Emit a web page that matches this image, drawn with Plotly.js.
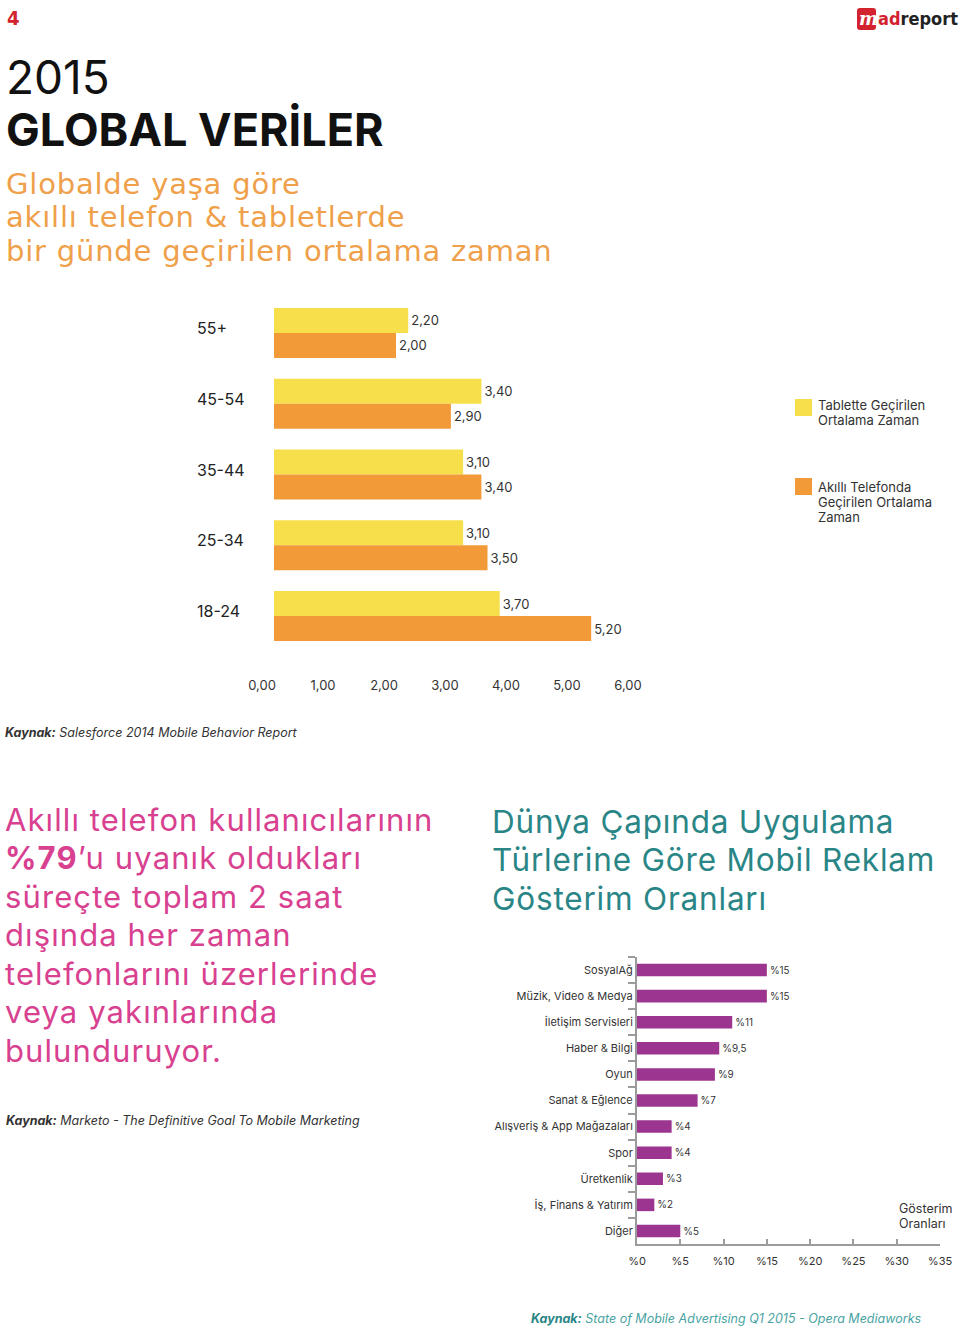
<!DOCTYPE html>
<html>
<head>
<meta charset="utf-8">
<script src="https://cdn.plot.ly/plotly-3.0.1.min.js"></script>
<style>html,body{margin:0;padding:0;background:#fff;}#chart{width:960px;height:1330px;}</style>
</head>
<body>
<div id="chart"></div>
<script>
// ---------- data: chart 1 ----------
const ageGroups = ['55+', '45-54', '35-44', '25-34', '18-24'];
const tabletHours = [2.20, 3.40, 3.10, 3.10, 3.70];
const phoneHours = [2.00, 2.90, 3.40, 3.50, 5.20];
const hourTicks = [0, 1, 2, 3, 4, 5, 6];
const tabletName = ['Tablette Geçirilen', 'Ortalama Zaman'];
const phoneName = ['Akıllı Telefonda', 'Geçirilen Ortalama', 'Zaman'];

// ---------- data: chart 2 ----------
const appCategories = ['SosyalAğ', 'Müzik, Video & Medya', 'İletişim Servisleri', 'Haber & Bilgi', 'Oyun',
  'Sanat & Eğlence', 'Alışveriş & App Mağazaları', 'Spor', 'Üretkenlik', 'İş, Finans & Yatırım', 'Diğer'];
const appShares = [15, 15, 11, 9.5, 9, 7, 4, 4, 3, 2, 5];
const shareTicks = [0, 5, 10, 15, 20, 25, 30, 35];
const shareTickText = shareTicks.map(v => '%' + v);

const W = 960, H = 1330;
const FONT = 'Inter, Lato, "Noto Sans", sans-serif';
const WIDE = '"DejaVu Sans", Inter, sans-serif';
const NARROW = '"Liberation Sans Narrow", "DejaVu Sans Condensed", "DejaVu Sans", sans-serif';
const TXT = '#333333';
const YELLOW = '#F7DF4B', ORANGE = '#F39A38', PURPLE = '#9C3590';
const px = v => v / W;
const py = v => 1 - v / H;

const traces = [
  {
    type: 'bar', orientation: 'h', x: tabletHours, y: ageGroups, xaxis: 'x', yaxis: 'y',
    name: tabletName.join(' '), marker: {color: YELLOW}, width: 0.353, offset: -0.353,
    texttemplate: '%{x:.2f}', textposition: 'outside', cliponaxis: false,
    textfont: {family: FONT, size: 13, color: TXT}, hoverinfo: 'x+y'
  },
  {
    type: 'bar', orientation: 'h', x: phoneHours, y: ageGroups, xaxis: 'x', yaxis: 'y',
    name: phoneName.join(' '), marker: {color: ORANGE}, width: 0.353, offset: 0,
    texttemplate: '%{x:.2f}', textposition: 'outside', cliponaxis: false,
    textfont: {family: FONT, size: 13, color: TXT}, hoverinfo: 'x+y'
  },
  {
    type: 'bar', orientation: 'h', x: appShares, y: appCategories, xaxis: 'x2', yaxis: 'y2',
    name: 'Gösterim Oranları', marker: {color: PURPLE}, width: 0.48,
    texttemplate: '%%{x:.1~f}', textposition: 'outside', cliponaxis: false,
    textfont: {family: FONT, size: 11, color: TXT}, hoverinfo: 'x+y'
  }
];

const annotations = [];
function ann(text, x, y, size, color, family, extra) {
  annotations.push(Object.assign({
    text: text, x: px(x), y: py(y), xref: 'paper', yref: 'paper',
    xanchor: 'left', yanchor: 'middle', showarrow: false,
    font: {family: family || FONT, size: size, color: color}
  }, extra || {}));
}
function lines(arr, x, y0, dy, size, color, family, extra) {
  arr.forEach((t, i) => ann(t, x, y0 + i * dy, size, color, family, extra));
}
const spaced = (t, s) => '<span style="letter-spacing:' + s + 'px">' + t + '</span>';

// header
ann('<b>4</b>', 5, 18, 20, '#D2232F', NARROW);
ann('<b><i>m</i></b>', 857, 19, 18, '#ffffff', '"DejaVu Serif", serif');
ann('<b><span style="color:#D2232F">ad</span>report</b>', 876, 18, 18, '#222222', NARROW);

ann('2015', 4, 77, 46, '#111111', FONT);
ann('<b>GLOBAL VERİLER</b>', 4, 129, 45, '#111111', FONT);

lines(['Globalde yaşa göre', 'akıllı telefon & tabletlerde', 'bir günde geçirilen ortalama zaman']
  .map(t => spaced(t, 0.8)), 4, 183.5, 33.6, 29, '#EFA04A', WIDE);

// age labels (placed on the category scale)
ageGroups.forEach(g => annotations.push({
  text: g, x: px(195), xref: 'paper', y: g, yref: 'y', xanchor: 'left', yanchor: 'middle',
  yshift: 5, showarrow: false, font: {family: FONT, size: 16, color: '#222222'}
}));

// legend
lines(tabletName, 816, 405, 14.5, 13, TXT);
lines(phoneName, 816, 487, 15, 13, TXT);

ann('<b><i>Kaynak:</i></b> <i>Salesforce 2014 Mobile Behavior Report</i>', 3, 733, 12.5, TXT);

// pink block
lines(['Akıllı telefon kullanıcılarının', '<b>%79</b>’u uyanık oldukları', 'süreçte toplam 2 saat',
  'dışında her zaman', 'telefonlarını üzerlerinde', 'veya yakınlarında', 'bulunduruyor.']
  .map(t => spaced(t, 1.1)), 3, 819, 38.5, 31, '#D8418F');

ann('<b><i>Kaynak:</i></b> <i>Marketo - The Definitive Goal To Mobile Marketing</i>', 4, 1120, 12.5, TXT);

// teal title
lines(['Dünya Çapında Uygulama', 'Türlerine Göre Mobil Reklam', 'Gösterim Oranları']
  .map(t => spaced(t, 0.8)), 490, 821, 38.5, 31.5, '#2A8686');

lines(['Gösterim', 'Oranları'], 897, 1208, 15, 12.5, TXT);

ann('<b><i>Kaynak:</i></b><i><span style="color:#4AA3A3"> State of Mobile Advertising Q1 2015 - Opera Mediaworks</span></i>', 529, 1318, 12.5, '#2A8686');

const shapes = [
  {type: 'rect', xref: 'paper', yref: 'paper', x0: px(795), x1: px(812), y0: py(399), y1: py(416), fillcolor: YELLOW, line: {width: 0}},
  {type: 'rect', xref: 'paper', yref: 'paper', x0: px(795), x1: px(812), y0: py(478), y1: py(495), fillcolor: ORANGE, line: {width: 0}},
  {type: 'path', xref: 'paper', yref: 'paper', fillcolor: '#D2232F', line: {width: 0},
    path: `M ${px(860)},${py(8)} L ${px(873)},${py(8)} Q ${px(876)},${py(8)} ${px(876)},${py(11)} L ${px(876)},${py(27)} Q ${px(876)},${py(30)} ${px(873)},${py(30)} L ${px(860)},${py(30)} Q ${px(857)},${py(30)} ${px(857)},${py(27)} L ${px(857)},${py(11)} Q ${px(857)},${py(8)} ${px(860)},${py(8)} Z`}
];

const layout = {
  width: W, height: H, margin: {l: 0, r: 0, t: 0, b: 0},
  paper_bgcolor: '#ffffff', plot_bgcolor: 'rgba(0,0,0,0)',
  showlegend: false, separators: ',.', barmode: 'overlay',
  font: {family: FONT, color: TXT},
  xaxis: {
    domain: [px(274), px(640)], range: [0, 6], anchor: 'y', tickvals: hourTicks, tickformat: '.2f',
    showgrid: false, zeroline: false, showline: false, ticks: '', ticklabelstandoff: 24, ticklabelshift: -12,
    tickfont: {family: FONT, size: 13, color: TXT}, fixedrange: true
  },
  yaxis: {
    domain: [py(651.5), py(297.5)], type: 'category', categoryarray: ageGroups, categoryorder: 'array',
    autorange: 'reversed', anchor: 'x', showticklabels: false, showgrid: false, zeroline: false, ticks: '', fixedrange: true
  },
  xaxis2: {
    domain: [px(637), px(940)], range: [0, 35], anchor: 'y2', tickmode: 'array', tickvals: shareTicks, ticktext: shareTickText,
    showgrid: false, zeroline: false, showline: true, linecolor: '#9b9b9b', linewidth: 2,
    ticks: 'inside', ticklen: 5, tickwidth: 2, tickcolor: '#9b9b9b', ticklabelstandoff: 6,
    tickfont: {family: FONT, size: 11, color: TXT}, fixedrange: true
  },
  yaxis2: {
    domain: [py(1244), py(957)], type: 'category', categoryarray: appCategories, categoryorder: 'array',
    autorange: 'reversed', anchor: 'x2', showgrid: false, zeroline: false, showline: true,
    linecolor: '#9b9b9b', linewidth: 2, ticks: 'outside', tickson: 'boundaries', ticklen: 7, tickwidth: 2,
    tickcolor: '#9b9b9b', tickfont: {family: FONT, size: 11, color: TXT}, fixedrange: true
  },
  annotations: annotations,
  shapes: shapes
};

Plotly.newPlot('chart', traces, layout, {displayModeBar: false, staticPlot: true});
</script>
</body>
</html>
